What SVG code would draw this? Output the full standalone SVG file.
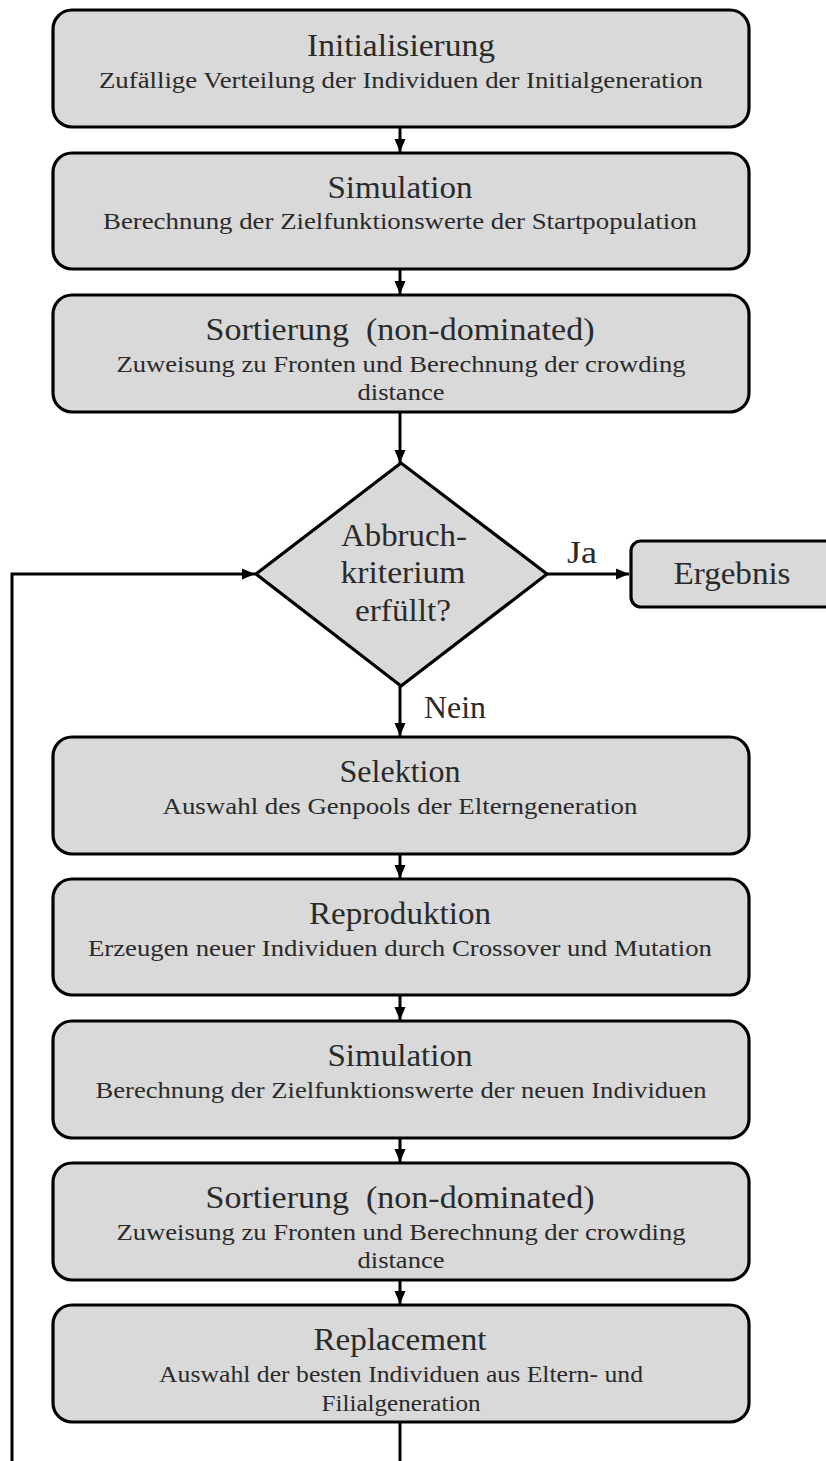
<svg xmlns="http://www.w3.org/2000/svg" width="826" height="1461" viewBox="0 0 826 1461">
  <style>
    .box { fill: #d9d9d9; stroke: #000; stroke-width: 3.2; }
    .line { fill: none; stroke: #000; stroke-width: 3; }
    text { font-family: "Liberation Serif", "Times New Roman", serif; fill: #2a2a2a; text-anchor: middle; }
    .title { font-size: 31px; }
    .sub { font-size: 22.5px; }
    .lbl { font-size: 31px; }
  </style>
  <defs>
    <marker id="arrow" markerUnits="userSpaceOnUse" markerWidth="14" markerHeight="14" viewBox="0 0 14 14" refX="13" refY="7" orient="auto">
      <path d="M0,1.5 L13,7 L0,12.5 Z" fill="#000"/>
    </marker>
  </defs>

  <!-- connectors -->
  <g id="connectors">
    <line class="line" x1="400" y1="127" x2="400" y2="152" marker-end="url(#arrow)"/>
    <line class="line" x1="400" y1="269" x2="400" y2="294" marker-end="url(#arrow)"/>
    <line class="line" x1="400" y1="412" x2="400" y2="463" marker-end="url(#arrow)"/>
    <line class="line" x1="400" y1="686" x2="400" y2="736" marker-end="url(#arrow)"/>
    <line class="line" x1="546" y1="574" x2="629" y2="574" marker-end="url(#arrow)"/>
    <line class="line" x1="400" y1="854" x2="400" y2="878" marker-end="url(#arrow)"/>
    <line class="line" x1="400" y1="995" x2="400" y2="1020" marker-end="url(#arrow)"/>
    <line class="line" x1="400" y1="1138" x2="400" y2="1162" marker-end="url(#arrow)"/>
    <line class="line" x1="400" y1="1280" x2="400" y2="1304" marker-end="url(#arrow)"/>
    <line class="line" x1="400" y1="1422" x2="400" y2="1461"/>
    <polyline class="line" points="12,1461 12,574 255,574" marker-end="url(#arrow)"/>
    <text class="lbl" x="582" y="563" textLength="30" lengthAdjust="spacingAndGlyphs">Ja</text>
    <text class="lbl" x="455" y="718" textLength="62" lengthAdjust="spacingAndGlyphs">Nein</text>
  </g>

  <g id="init">
    <rect class="box" x="53" y="10" width="696" height="117" rx="19"/>
    <text class="title" x="401" y="56" textLength="188" lengthAdjust="spacingAndGlyphs">Initialisierung</text>
    <text class="sub" x="401" y="88" textLength="604" lengthAdjust="spacingAndGlyphs">Zufällige Verteilung der Individuen der Initialgeneration</text>
  </g>

  <g id="simulation1">
    <rect class="box" x="53" y="153" width="696" height="116" rx="19"/>
    <text class="title" x="400" y="198" textLength="145" lengthAdjust="spacingAndGlyphs">Simulation</text>
    <text class="sub" x="400" y="229" textLength="594" lengthAdjust="spacingAndGlyphs">Berechnung der Zielfunktionswerte der Startpopulation</text>
  </g>

  <g id="sort1">
    <rect class="box" x="53" y="295" width="696" height="117" rx="19"/>
    <text class="title" x="400" y="340" textLength="389" lengthAdjust="spacingAndGlyphs" style="white-space:pre">Sortierung  (non-dominated)</text>
    <text class="sub" x="401" y="372" textLength="569" lengthAdjust="spacingAndGlyphs">Zuweisung zu Fronten und Berechnung der crowding</text>
    <text class="sub" x="401" y="400" textLength="87" lengthAdjust="spacingAndGlyphs">distance</text>
  </g>

  <g id="decision">
    <polygon class="box" points="401,463 547,574 401,686 256,574"/>
    <text class="lbl" x="404" y="546" textLength="126" lengthAdjust="spacingAndGlyphs">Abbruch-</text>
    <text class="lbl" x="403" y="583" textLength="125" lengthAdjust="spacingAndGlyphs">kriterium</text>
    <text class="lbl" x="403" y="621" textLength="96" lengthAdjust="spacingAndGlyphs">erfüllt?</text>
  </g>

  <g id="result">
    <rect class="box" x="631" y="541" width="240" height="66" rx="10"/>
    <text class="lbl" x="732" y="584" textLength="117" lengthAdjust="spacingAndGlyphs">Ergebnis</text>
  </g>

  <g id="selection">
    <rect class="box" x="53" y="737" width="696" height="117" rx="19"/>
    <text class="title" x="400" y="782" textLength="121" lengthAdjust="spacingAndGlyphs">Selektion</text>
    <text class="sub" x="400" y="814" textLength="475" lengthAdjust="spacingAndGlyphs">Auswahl des Genpools der Elterngeneration</text>
  </g>

  <g id="reproduction">
    <rect class="box" x="53" y="879" width="696" height="116" rx="19"/>
    <text class="title" x="400" y="924" textLength="182" lengthAdjust="spacingAndGlyphs">Reproduktion</text>
    <text class="sub" x="400" y="956" textLength="624" lengthAdjust="spacingAndGlyphs">Erzeugen neuer Individuen durch Crossover und Mutation</text>
  </g>

  <g id="simulation2">
    <rect class="box" x="53" y="1021" width="696" height="117" rx="19"/>
    <text class="title" x="400" y="1066" textLength="145" lengthAdjust="spacingAndGlyphs">Simulation</text>
    <text class="sub" x="401" y="1098" textLength="611" lengthAdjust="spacingAndGlyphs">Berechnung der Zielfunktionswerte der neuen Individuen</text>
  </g>

  <g id="sort2">
    <rect class="box" x="53" y="1163" width="696" height="117" rx="19"/>
    <text class="title" x="400" y="1208" textLength="389" lengthAdjust="spacingAndGlyphs" style="white-space:pre">Sortierung  (non-dominated)</text>
    <text class="sub" x="401" y="1240" textLength="569" lengthAdjust="spacingAndGlyphs">Zuweisung zu Fronten und Berechnung der crowding</text>
    <text class="sub" x="401" y="1268" textLength="87" lengthAdjust="spacingAndGlyphs">distance</text>
  </g>

  <g id="replacement">
    <rect class="box" x="53" y="1305" width="696" height="117" rx="19"/>
    <text class="title" x="400" y="1350" textLength="173" lengthAdjust="spacingAndGlyphs">Replacement</text>
    <text class="sub" x="401" y="1382" textLength="484" lengthAdjust="spacingAndGlyphs">Auswahl der besten Individuen aus Eltern- und</text>
    <text class="sub" x="401" y="1411" textLength="159" lengthAdjust="spacingAndGlyphs">Filialgeneration</text>
  </g>
</svg>
